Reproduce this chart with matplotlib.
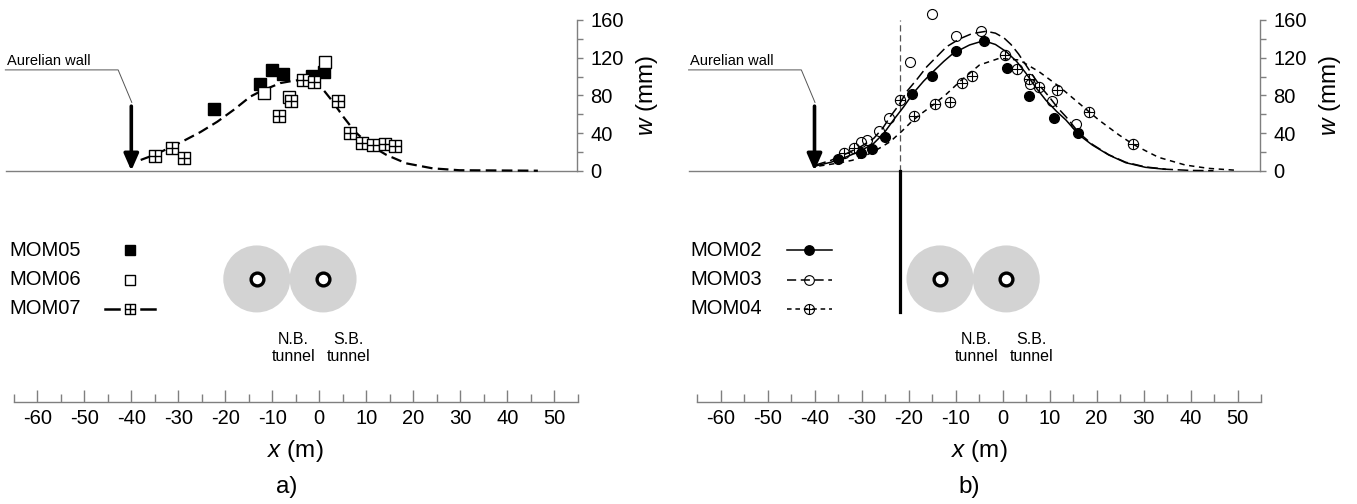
import numpy as np
import matplotlib.pyplot as plt
from matplotlib.path import Path
from matplotlib.patches import Ellipse

plt.rcParams['font.family'] = ['Liberation Sans', 'DejaVu Sans']
plt.rcParams['mathtext.fontset'] = 'custom'
plt.rcParams['mathtext.it'] = 'Liberation Sans:italic'
plt.rcParams['mathtext.rm'] = 'Liberation Sans'

# ---- panel a) measured settlements (x in m, w in mm)
mom05_x = [-22.3, -12.7, -10.1, -7.8, -1.6, 1.0]
mom05_w = [65, 92, 107, 102.5, 100.5, 105]
mom06_x = [-11.7, -6.4, 1.3]
mom06_w = [82, 78.6, 115.7]
mom07_x = [-35.0, -31.4, -28.8, -8.6, -6.0, -3.5, -1.1, 4.0, 6.5, 9.0, 11.4, 13.9, 16.2]
mom07_w = [15.9, 23.8, 13.8, 58.3, 74.3, 96.3, 94.5, 74.3, 40.3, 29.1, 26.9, 28.0, 26.2]
# fitted trough for MOM07
fit07_x = [-38.0, -35, -32, -29.2, -25.3, -21.7, -18.1, -14.7, -12.6, -8.3, -5.5, -2.8,
           -0.6, 1.0, 2.6, 5.1, 7.6, 10.7, 14.3, 18.5, 24.1, 29.8, 46.5]
fit07_w = [11.4, 17, 24, 30.8, 41, 52, 65, 78.6, 84, 93, 95.5, 97,
           92, 85, 75, 57.3, 41.4, 27.3, 16.7, 7.8, 2.5, 0.5, 0]

# ---- panel b) measured settlements
mom02_x = [-35.0, -30.1, -27.7, -24.9, -19.3, -15.0, -10.0, -4.0, 0.9, 5.7, 10.9, 16.1]
mom02_w = [12, 19.1, 23, 36.1, 81.4, 100.9, 127.2, 138, 109.3, 79.3, 55.6, 39.7]
mom03_x = [-30.1, -28.8, -26.3, -24.1, -19.7, -14.9, -10.0, -4.5, 5.9, 10.6, 15.6]
mom03_w = [30, 33, 42.5, 55.6, 115.7, 166.3, 143, 148.6, 92, 74.3, 49.6]
mom04_x = [-33.8, -31.7, -21.9, -18.8, -14.4, -11.1, -8.7, -6.5, 0.6, 3.0, 5.6, 7.8, 11.7, 18.4, 27.7]
mom04_w = [18.8, 24.3, 75, 58.1, 70.8, 72.6, 93.4, 100.9, 122.8, 107.6, 97, 89.2, 85.7, 62.6, 28.3]
# fitted troughs
fit02_x = [-39.8, -36.5, -33.1, -30.2, -27.4, -25.2, -23.2, -21, -19, -16.8, -14.8, -12.5, -10.5,
           -7, -4, -1.5, 0.8, 3, 5, 7, 9.2, 11.5, 13.5, 16.3, 19.1, 22.6, 26.2, 30.4, 34.6]
fit02_w = [5, 9, 14.9, 21, 29, 40, 53.8, 68, 82.2, 95, 105, 116, 124.6,
           133.5, 138, 134, 126.3, 116, 103.4, 89, 75, 63, 53.8, 37.9, 27.3, 16.7, 8.5, 3.6, 1.5]
fit03_x = [-39.8, -36.5, -33.1, -30, -27.4, -25.5, -23.9, -22, -20.4, -18.2, -16.1, -14, -11.9,
           -9.1, -6.5, -3.5, -1.5, 0.3, 1.8, 3.4, 5, 6.6, 8.3, 9.9, 11.7, 13.5, 16.3, 19.1,
           22.6, 26.2, 30.4, 35, 40, 44.9]
fit03_w = [6, 11, 18.4, 26, 34.3, 45, 57.3, 70, 83.9, 97, 110.4, 121, 131.6,
           140, 145.5, 148, 146, 141, 134, 124, 112, 100, 88, 78.6, 67, 57.3, 40, 28,
           17, 9, 4, 1.5, 0.3, 0]
fit04_x = [-39, -35, -32, -29.6, -26.8, -23.9, -21.4, -19, -16.9, -14.8, -12, -9, -4.9, -0.7,
           3.6, 7.8, 12.1, 16.3, 20.5, 24.8, 27.7, 30.5, 33.2, 38.9, 43.8, 50.2]
fit04_w = [5, 8, 11, 14.9, 22, 30.8, 42, 53.8, 62, 69.7, 81, 95, 112.2, 119.3,
           117.5, 105, 89.2, 71.5, 53.8, 37.9, 28.3, 21, 14.2, 6, 2.5, 0.3]

tunnel_x = [-13.3, 0.8]
x_major = list(range(-60, 51, 10))
x_minor = list(range(-65, 56, 10))
w_major = [0, 40, 80, 120, 160]
w_minor = [20, 60, 100, 140]

GREY = '#7f7f7f'


def marker_path(shape):
    # square or circle with a cross inside
    if shape == 'square':
        outer = Path([[-1, -1], [1, -1], [1, 1], [-1, 1], [-1, -1]],
                     [Path.MOVETO, Path.LINETO, Path.LINETO, Path.LINETO, Path.CLOSEPOLY])
    else:
        outer = Path.unit_circle()
    h = Path([[-1, 0], [1, 0]])
    v = Path([[0, -1], [0, 1]])
    return Path.make_compound_path(outer, h, v)


SQ_PLUS = marker_path('square')
CI_PLUS = marker_path('circle')


def setup(ax, x0px, left_px, width_px):
    # x mapping: px = x0px + 4.7 * x ; y mapping: py = 170.7 - 0.942 * w
    ax.set_xlim((left_px - x0px) / 4.7, (left_px + width_px - x0px) / 4.7)
    ax.set_ylim((170.7 - 504) / 0.942, 170.7 / 0.942)
    ax.patch.set_visible(False)
    for s in ['top', 'left']:
        ax.spines[s].set_visible(False)
    ax.spines['bottom'].set_position(('data', -245.2))
    ax.spines['bottom'].set_bounds(-65, 55)
    ax.spines['right'].set_position(('data', 54.8))
    ax.spines['right'].set_bounds(0, 160)
    for s in ['bottom', 'right']:
        ax.spines[s].set_color(GREY)
        ax.spines[s].set_linewidth(1)
    ax.set_xticks(x_major)
    ax.set_xticks(x_minor, minor=True)
    ax.set_xticklabels([str(v) for v in x_major])
    ax.tick_params(axis='x', which='major', direction='in', length=8.4, width=1,
                   color=GREY, labelsize=14.5, pad=5)
    ax.tick_params(axis='x', which='minor', direction='in', length=5.5, width=1, color=GREY)
    ax.yaxis.tick_right()
    ax.set_yticks(w_major)
    ax.set_yticks(w_minor, minor=True)
    ax.tick_params(axis='y', which='both', direction='out', length=4.5, width=1,
                   color=GREY, labelsize=14.5, pad=5)
    ax.plot([-66.7, 54.8], [0, 0], color=GREY, lw=1)
    ax.text(-5, -298, '$x$ (m)', ha='center', va='center', fontsize=17.5)
    ax.text(69.7, 80, '$w$ (mm)', ha='center', va='center', fontsize=17.5, rotation=90)
    # Aurelian wall
    ax.text(-66.5, 116, 'Aurelian wall', ha='left', va='center', fontsize=10.5)
    ax.plot([-66.8, -42.8, -39.9], [107, 107, 72.5], color='#555555', lw=0.7)
    ax.annotate('', xy=(-40, 0), xytext=(-40, 68.5),
                arrowprops=dict(arrowstyle='-|>,head_length=0.5,head_width=0.22',
                                lw=2.6, color='k', shrinkA=0, shrinkB=0, mutation_scale=20))
    # tunnels
    for tx in tunnel_x:
        ax.add_patch(Ellipse((tx, -114.9), 67 / 4.7, 67 / 0.942, color='#d3d3d3', lw=0))
    ax.plot(tunnel_x, [-114.9, -114.9], ls='none', marker='o', ms=9.2, mfc='white',
            mec='k', mew=2.4)
    ax.text(tunnel_x[0] + 7.8, -188.5, 'N.B.\ntunnel', ha='center', va='center',
            fontsize=11.5, linespacing=1.15)
    ax.text(tunnel_x[1] + 5.4, -188.5, 'S.B.\ntunnel', ha='center', va='center',
            fontsize=11.5, linespacing=1.15)


fig = plt.figure(figsize=(13.57, 5.04), dpi=100)
ax_a = fig.add_axes([0, 0, 678 / 1357, 1])
ax_b = fig.add_axes([678 / 1357, 0, 679 / 1357, 1])
setup(ax_a, 319.3, 0, 678)
setup(ax_b, 1002.5, 678, 679)

# ---- panel a
ax_a.plot(fit07_x, fit07_w, color='k', lw=1.6, dashes=(4.8, 2.4))
ax_a.plot(mom05_x, mom05_w, ls='none', marker='s', ms=8, mfc='k', mec='k', mew=1)
ax_a.plot(mom06_x, mom06_w, ls='none', marker='s', ms=8, mfc='white', mec='k', mew=1)
ax_a.plot(mom07_x, mom07_w, ls='none', marker=SQ_PLUS, ms=8, mfc='white', mec='k', mew=1)
ax_a.text(-7, -335.5, 'a)', ha='center', va='center', fontsize=17.5)

leg_y = [-84.5, -115.5, -146.5]
for y, lab in zip(leg_y, ['MOM05', 'MOM06', 'MOM07']):
    ax_a.text(-65.9, y, lab, ha='left', va='center', fontsize=14.5)
ax_a.plot([-40.3], [leg_y[0]], ls='none', marker='s', ms=7.6, mfc='k', mec='k')
ax_a.plot([-40.3], [leg_y[1]], ls='none', marker='s', ms=7.6, mfc='white', mec='k', mew=1)
ax_a.plot([-45.7, -42.6], [leg_y[2]] * 2, color='k', lw=1.8)
ax_a.plot([-37.9, -35.0], [leg_y[2]] * 2, color='k', lw=1.8)
ax_a.plot([-40.3], [leg_y[2]], ls='none', marker=SQ_PLUS, ms=7.6, mfc='white', mec='k', mew=1)

# ---- panel b
ax_b.plot([-21.8, -21.8], [0, 160], color='#555555', lw=0.9, dashes=(5, 3))
ax_b.plot([-21.8, -21.8], [0, -149.7], color='k', lw=2.3)
ax_b.plot(fit02_x, fit02_w, color='k', lw=1.1)
ax_b.plot(fit03_x, fit03_w, color='k', lw=1.1, dashes=(7, 3))
ax_b.plot(fit04_x, fit04_w, color='k', lw=1.1, dashes=(3.5, 3))
ax_b.plot(mom02_x, mom02_w, ls='none', marker='o', ms=7, mfc='k', mec='k')
ax_b.plot(mom03_x, mom03_w, ls='none', marker='o', ms=7.2, mfc='none', mec='k', mew=0.8)
ax_b.plot(mom04_x, mom04_w, ls='none', marker=CI_PLUS, ms=7.4, mfc='none', mec='k', mew=0.8)
ax_b.text(-7, -335.5, 'b)', ha='center', va='center', fontsize=17.5)

for y, lab in zip(leg_y, ['MOM02', 'MOM03', 'MOM04']):
    ax_b.text(-66.4, y, lab, ha='left', va='center', fontsize=14.5)
ax_b.plot([-45.9, -36.2], [leg_y[0]] * 2, color='k', lw=1.1)
ax_b.plot([-41.1], [leg_y[0]], ls='none', marker='o', ms=6.8, mfc='k', mec='k')
ax_b.plot([-45.9, -36.2], [leg_y[1]] * 2, color='k', lw=1.1, dashes=(6, 3))
ax_b.plot([-41.1], [leg_y[1]], ls='none', marker='o', ms=7, mfc='none', mec='k', mew=0.8)
ax_b.plot([-45.9, -36.2], [leg_y[2]] * 2, color='k', lw=1.1, dashes=(3, 2.5))
ax_b.plot([-41.1], [leg_y[2]], ls='none', marker=CI_PLUS, ms=7.2, mfc='none', mec='k', mew=0.8)

fig.savefig('out.png', dpi=100)
